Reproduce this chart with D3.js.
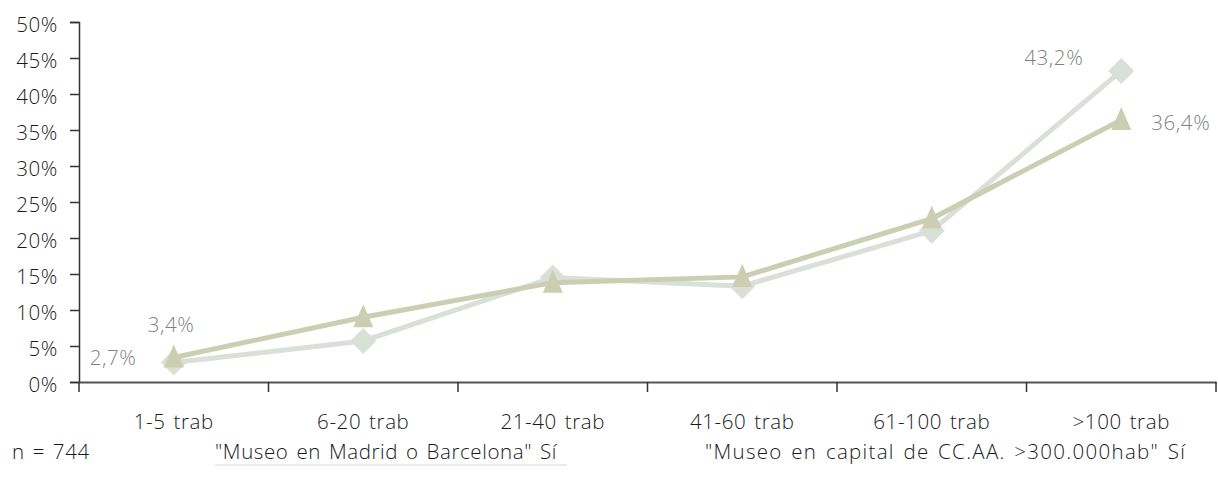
<!DOCTYPE html>
<html><head><meta charset="utf-8">
<script src="https://cdn.jsdelivr.net/npm/d3@7"></script>
<style>body{margin:0;background:#fff;font-family:"Open Sans",sans-serif;}
svg text{letter-spacing:0.6px;word-spacing:2px;}</style>
</head><body><svg id="c" width="1218" height="493"></svg>
<script>
const categories = ["1-5 trab","6-20 trab","21-40 trab","41-60 trab","61-100 trab",">100 trab"];
const madridBcn = [2.7, 5.7, 14.5, 13.3, 21.0, 43.2];
const capitalCCAA = [3.4, 9.0, 13.8, 14.6, 22.7, 36.4];
const yTicks = [0,5,10,15,20,25,30,35,40,45,50];
const seriesNames = ['"Museo en Madrid o Barcelona" Sí','"Museo en capital de CC.AA. >300.000hab" Sí'];
const note = "n = 744";

const svg = d3.select("#c");
const L=79, R=1216, T=22, B=382;
const x = d3.scaleBand().domain(categories).range([L,R]);
const y = d3.scaleLinear().domain([0,50]).range([B,T]);
const font = "'Open Sans', sans-serif";
const FS = 20.5, FW = 300, TXT = "#1a1a1a";

// y axis
const ya = svg.append("g").attr("transform",`translate(${L},0)`)
  .call(d3.axisLeft(y).tickValues(yTicks).tickSize(9).tickFormat(d=>d+"%"));
ya.select(".domain").attr("stroke","#333").attr("stroke-width",1.5);
ya.selectAll(".tick line").attr("stroke","#333").attr("stroke-width",1.5);
ya.selectAll("text").attr("font-size",FS).attr("font-weight",FW).attr("fill",TXT).attr("font-family",font).attr("x",-21).attr("dy","0.45em");

// x axis
const xa = svg.append("g").attr("transform",`translate(0,${B})`)
  .call(d3.axisBottom(x).tickSize(0).tickSizeOuter(0));
xa.select(".domain").attr("stroke","#555").attr("stroke-width",2);
xa.selectAll(".tick text").attr("font-size",FS).attr("font-weight",FW).attr("fill",TXT).attr("font-family",font).attr("dy",0).attr("y",47);
// boundary ticks
svg.append("g").selectAll("line").data(d3.range(categories.length+1)).join("line")
  .attr("x1",i=>L+i*x.step()).attr("x2",i=>L+i*x.step())
  .attr("y1",B).attr("y2",B+10).attr("stroke","#333").attr("stroke-width",1.5);

const cx = d=>x(d)+x.bandwidth()/2;
const line = d3.line().x((d,i)=>cx(categories[i])).y(d=>y(d));

const c1="#d9e0d8", c2="#ccceb1";
const diamond = "M0,-13L13,0L0,13L-13,0Z";
const tri = "M0,-13L10,10L-10,10Z";
svg.append("path").datum(madridBcn).attr("d",line).attr("fill","none").attr("stroke",c1).attr("stroke-width",5);
svg.append("g").selectAll("path").data(madridBcn).join("path")
  .attr("d",diamond)
  .attr("transform",(d,i)=>`translate(${cx(categories[i])},${y(d)})`)
  .attr("fill",c1);

svg.append("path").datum(capitalCCAA).attr("d",line).attr("fill","none").attr("stroke",c2).attr("stroke-width",5);
svg.append("g").selectAll("path").data(capitalCCAA).join("path")
  .attr("d",tri)
  .attr("transform",(d,i)=>`translate(${cx(categories[i])},${y(d)})`)
  .attr("fill",c2);

// value labels
const lab = (txt,xx,yy)=>svg.append("text").text(txt).attr("x",xx).attr("y",yy)
  .attr("font-size",FS).attr("font-weight",FW).attr("fill","#808080").attr("font-family",font);
const fmt = v=>v.toFixed(1).replace(".",",")+"%";
lab(fmt(madridBcn[0]), cx(categories[0])-84, y(madridBcn[0])+2);
lab(fmt(capitalCCAA[0]), cx(categories[0])-26, y(capitalCCAA[0])-26);
lab(fmt(madridBcn[5]), cx(categories[5])-97, y(madridBcn[5])-6);
lab(fmt(capitalCCAA[5]), cx(categories[5])+30, y(capitalCCAA[5])+10);

// legend
const lg = svg.append("g").attr("font-family",font).attr("font-size",FS).attr("font-weight",FW).attr("fill",TXT);
lg.append("text").text(note).attr("x",12).attr("y",459);
lg.append("text").text(seriesNames[0]).attr("x",215).attr("y",459);
lg.append("line").attr("x1",215).attr("x2",567).attr("y1",465).attr("y2",465).attr("stroke","#e3e8e2").attr("stroke-width",1.5);
lg.append("text").text(seriesNames[1]).attr("x",705).attr("y",459).style("letter-spacing","1.3px");
</script></body></html>
